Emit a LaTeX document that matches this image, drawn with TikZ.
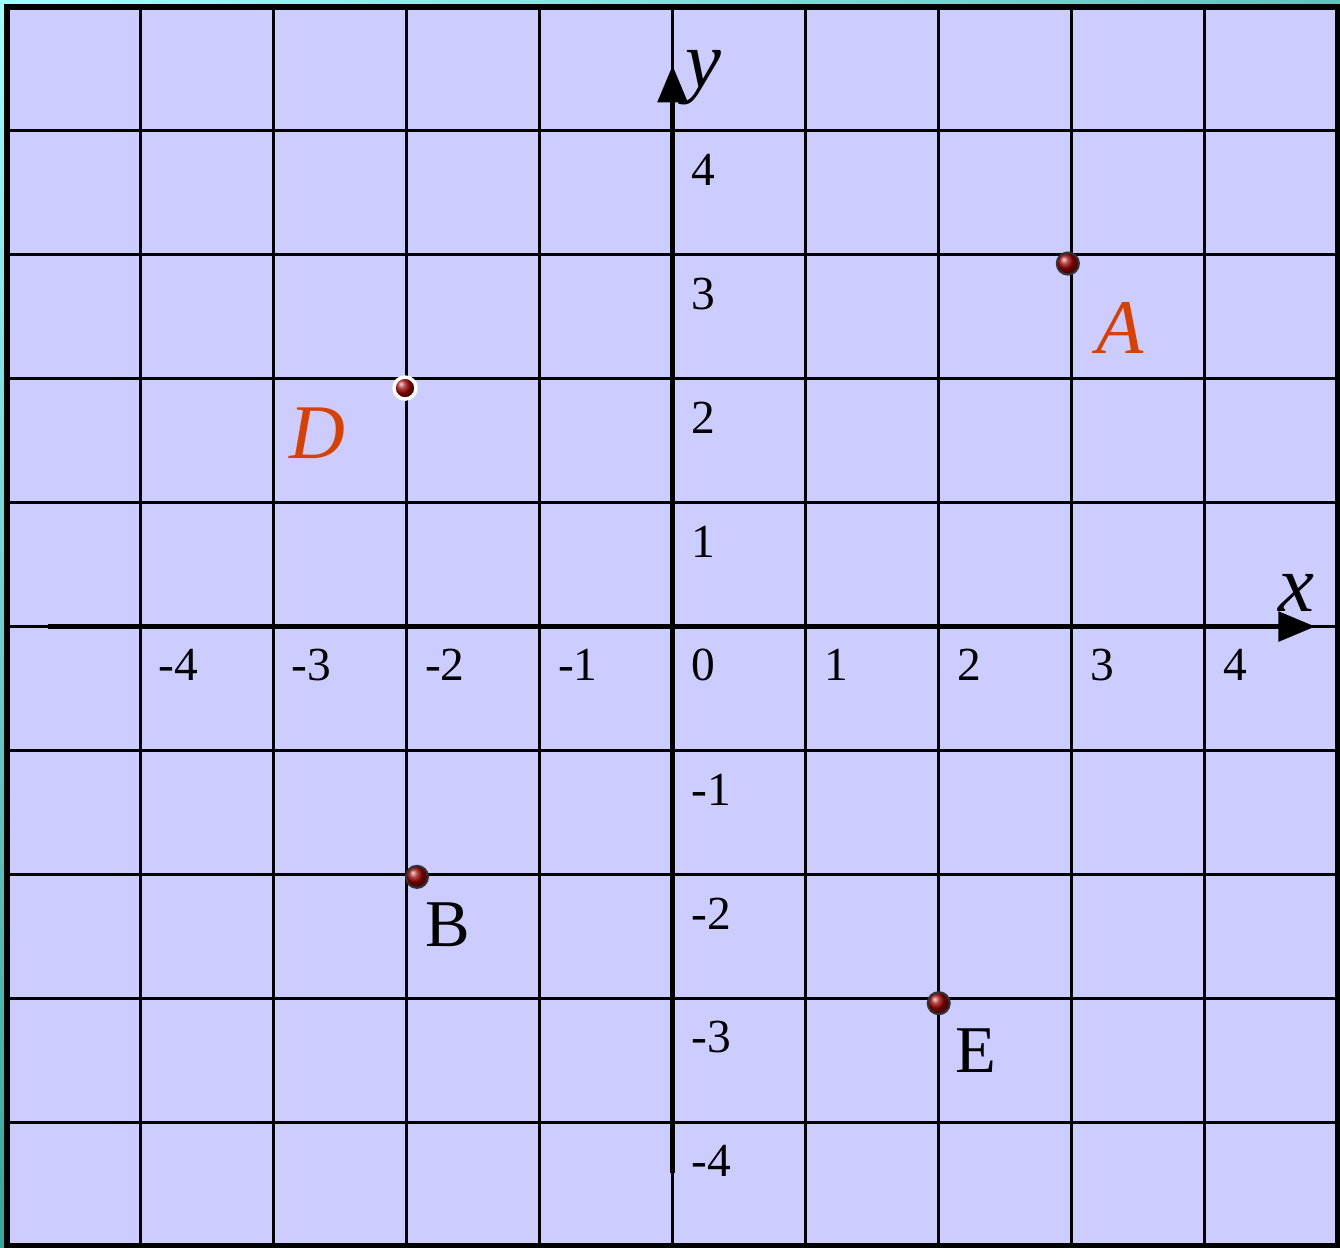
\documentclass[tikz,border=0pt]{standalone}
\usepackage{fontspec}
\setmainfont{Liberation Serif}
\usetikzlibrary{arrows.meta,shadings}
\definecolor{edgelight}{RGB}{160,255,255}
\definecolor{edgemid}{RGB}{95,195,190}
\definecolor{edgedark}{RGB}{55,165,155}
\definecolor{edgedeep}{RGB}{40,140,130}
\definecolor{gridbg}{RGB}{204,204,255}
\definecolor{ptred}{RGB}{216,64,0}
\tikzset{
  gridline/.style={line width=0.85pt},
  axisline/.style={line width=1.6pt,-{Triangle[length=0.37cm,width=0.29cm]}},
  ticklabel/.style={anchor=west,inner sep=0pt,font=\fontsize{13.5}{16}\selectfont},
  axislabel/.style={inner sep=0pt,font=\fontsize{23}{25}\selectfont\itshape},
  dot/.style={circle,inner sep=0pt,minimum size=0.22cm,shade,ball color=red!60!black,draw=black!80,line width=0.6pt},
  namered/.style={inner sep=0pt,text=ptred,font=\fontsize{22}{24}\selectfont\itshape},
  nameblack/.style={inner sep=0pt,font=\fontsize{19}{21}\selectfont}
}
\begin{document}
\begin{tikzpicture}[x=1.331cm,y=1.239cm]
  \useasboundingbox (-5.053,-5.008) rectangle (5.015,5.057);
  \shade[upper left=edgelight,upper right=edgemid,lower left=edgedark,lower right=edgedeep]
    (-5.053,-5.008) rectangle (5.015,5.057);
  \fill[gridbg] (-5,-5) rectangle (5,5);
  \foreach \i in {-4,...,4} {
    \draw[gridline] (\i,-5) -- (\i,5);
    \draw[gridline] (-5,\i) -- (5,\i);
  }
  \draw[line width=1.7pt] (-5,-5) rectangle (5,5);

  % axes
  \coordinate (xs) at (-4.69,0);
  \coordinate (xe) at (4.83,0);
  \coordinate (ys) at (0,-4.41);
  \coordinate (ye) at (0,4.53);
  \draw[axisline] (xs) -- (xe);
  \draw[axisline] (ys) -- (ye);
  \node[axislabel] (xname) at (4.69,0.27) {x};
  \node[axislabel] (yname) at (0.23,4.43) {y};

  % numbers
  \node[ticklabel] (o) at (0.135,-0.31) {0};
  \foreach \k in {-4,-3,-2,-1,1,2,3,4} {
    \node[ticklabel] (x\k) at (\k+0.135,-0.31) {\k};
    \node[ticklabel] (y\k) at (0.135,\k-0.315) {\k};
  }

  % points
  \node[dot] (A) at (2.97,2.93) {};
  \node[dot,draw=white,line width=1pt] (D) at (-2.01,1.925) {};
  \node[dot] (B) at (-1.92,-2.02) {};
  \node[dot] (E) at (2.0,-3.04) {};
  \node[namered] (Aname) at (3.36,2.41) {A};
  \node[namered] (Dname) at (-2.67,1.56) {D};
  \node[nameblack] (Bname) at (-1.69,-2.41) {B};
  \node[nameblack] (Ename) at (2.28,-3.42) {E};
\end{tikzpicture}
\end{document}
